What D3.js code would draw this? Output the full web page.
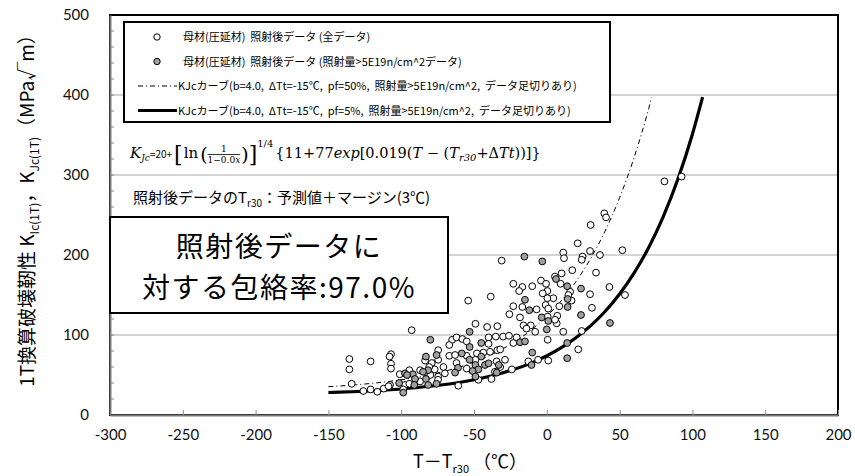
<!DOCTYPE html>
<html>
<head>
<meta charset="utf-8">
<script src="https://cdn.jsdelivr.net/npm/d3@7"></script>
<style>
  body { margin: 0; background: #fff; }
  svg { display: block; }
</style>
</head>
<body>
<div id="chart"></div>
<script>
// ---- data ----
const xTicks = [-300, -250, -200, -150, -100, -50, 0, 50, 100, 150, 200];
const yTicks = [0, 100, 200, 300, 400, 500];

// all irradiated base-metal data [T-Tr30, KJc]
const allData = [
  [39.5,252],[40.7,247],[30.1,237.5],[21.2,214.6],[51.9,206],[11.3,203],[11.8,196],[29.7,205],[24.6,198],[24,194],
  [36.5,200],[-31,193],[17.5,181],[33.8,178],[10.2,177],[5.6,173],[-4,168],[-0.5,164],[-23,164],[-16.8,160],
  [-19,155],[-10,161],[9.5,164],[16,154],[43,160],[53.7,150],[29.7,151],[-38.5,148],[0.4,155],[-2.8,152],
  [4.5,146],[0.4,146],[14.8,150],[17,143],[8.6,136],[-0.8,137.5],[-16.8,135],[-23,136],[-7,132],[1,133],
  [31,134],[-25.7,126],[-18.4,122],[0.6,123],[7.2,124],[6.8,114.6],[5.6,119],[-49,114],[-41,110],[-34,111],
  [-16,112],[-11,112],[-14,108],[-8,104],[11.3,104],[24,105],[-35,98],[-40,97],[-30,98],[-26,99],
  [-20.7,97],[-23,90],[0.6,94],[-40,89],[-34,81],[-32,82],[-43.6,78],[-39,79],[-48,77],[21.6,82],
  [-49,69],[-28.7,69],[-34.5,67],[1,68],[-6,69],[-12.7,67],[-32,60],[-35.6,54],[-24,57],[-47,44],
  [-38,45],[80.8,292],[92.6,298],
  [-54,143],[-92.8,106],[-65,94],[-62,97],[-58,95],[-67,87.5],[-55,92],[-74.6,81],[-74.6,69],[-83.6,68],
  [-67,74],[-63,75],[-55,74],[-62,65],[-55,58],[-71,60],[-70,52],[-79,65],[-77,57],[-80,50],
  [-74.6,48],[-87,56],[-94.4,56],[-101,51],[-87,42],[-74.7,44],[-97.4,37.5],[-94.4,39],[-98.6,32],[-107.7,37.5],
  [-107,76],[-108,73],[-107,64],[-107,58],[-121,67],[-135.6,70],[-135.6,57],[-134,39],[-126,30],[-121,32],
  [-116.4,29],[-112,33],[-108.7,36],[-60.8,36.6],[-80.8,60]
];

// fluence > 5E19 n/cm^2 subset
const highFluence = [
  [-15.4,198],[-3.1,192],[6.3,170],[14,161],[23.5,158],[14.3,145],[14.3,135],[-15,144],[-12,131],[-3.5,122],
  [1,117.5],[23.5,125],[0,107],[43.4,115],[-53,104],[-18.4,91],[-15,92],[14,90],[-53,85],[-45,90],
  [-10,78],[-53,69],[-45,73],[14,71],[-10.5,62.5],[-49,62.5],[-42.5,62.5],[-40,64.6],[-33,62.5],[-47,57],
  [-51,55],[-34.4,53],[-49,48],
  [-80,94],[-75.7,75],[-83,73],[-58.4,77],[-61,59],[-63,53],[-81.5,56],[-85,54],[-92,51],[-97.4,52],
  [-96,50],[-90.5,45],[-83,45],[-81.5,37.5],[-75.7,39],[-101.4,40],[-91,37.5],[-98.6,28]
];

// KJc curve pf=50% (dash-dot)
const curve50 = [
  [-150,35.4],[-130,37.9],[-110,41.6],[-90,46.9],[-70,54.7],[-50,66.2],[-30,82.9],[-10,107.3],
  [10,143.0],[20,166.6],[30,195.2],[40,229.8],[50,271.6],[60,322.1],[70,383.2],[72,396.9]
];
// KJc curve pf=5% (solid)
const curve5 = [
  [-150,28.1],[-130,29.4],[-110,31.3],[-90,34.1],[-70,38.1],[-50,44.1],[-30,52.8],[-10,65.5],
  [10,84.2],[20,96.5],[30,111.4],[40,129.4],[50,151.2],[60,177.6],[70,209.5],[80,248.0],
  [90,294.6],[100,351.0],[107,397.3]
];

const legendLabels = [
  "母材(圧延材)  照射後データ (全データ)",
  "母材(圧延材)  照射後データ (照射量>5E19n/cm^2データ)",
  "KJcカーブ(b=4.0,  ΔTt=-15℃,  pf=50%,  照射量>5E19n/cm^2,  データ足切りあり)",
  "KJcカーブ(b=4.0,  ΔTt=-15℃,  pf=5%,  照射量>5E19n/cm^2,  データ足切りあり)"
];

// ---- drawing ----
const W = 855, H = 476;
const plot = { left: 110, right: 838, top: 15, bottom: 415 };
const JP = "'Noto Sans CJK JP', 'Noto Sans', sans-serif";
const NUM = "Lato, 'Liberation Sans', sans-serif";
const SERIF = "'DejaVu Serif', 'Liberation Serif', serif";

const svg = d3.select("#chart").append("svg").attr("width", W).attr("height", H);

const x = d3.scaleLinear().domain([-300, 200]).range([plot.left, plot.right]);
const y = d3.scaleLinear().domain([0, 500]).range([plot.bottom, plot.top]);

// gridlines
svg.append("g")
  .selectAll("line")
  .data(yTicks.filter(d => d > 0 && d < 500))
  .enter().append("line")
  .attr("x1", plot.left).attr("x2", plot.right)
  .attr("y1", d => y(d)).attr("y2", d => y(d))
  .attr("stroke", "#a8a8a8").attr("stroke-width", 1);

// plot border
svg.append("rect")
  .attr("x", plot.left).attr("y", plot.top)
  .attr("width", plot.right - plot.left).attr("height", plot.bottom - plot.top)
  .attr("fill", "none").attr("stroke", "#000").attr("stroke-width", 2);

// x axis
const xAxis = svg.append("g")
  .attr("transform", `translate(0,${plot.bottom})`)
  .call(d3.axisBottom(x).tickValues(xTicks).tickSizeInner(-5).tickSizeOuter(0).tickPadding(14).tickFormat(d => String(d)));
xAxis.select(".domain").attr("stroke", "#7a7a7a").attr("stroke-width", 2);
xAxis.selectAll(".tick line").attr("stroke", "#8a8a8a");
xAxis.selectAll("text").style("font-family", NUM).style("font-size", "15px").attr("fill", "#111");

// y axis
const yAxis = svg.append("g")
  .attr("transform", `translate(${plot.left},0)`)
  .call(d3.axisLeft(y).tickValues(yTicks).tickSize(0).tickPadding(21).tickFormat(d => String(d)));
yAxis.select(".domain").attr("stroke", "#7a7a7a").attr("stroke-width", 2);
yAxis.selectAll("text").style("font-family", NUM).style("font-size", "15px").attr("fill", "#111");
// minor ticks every 20 pointing inwards
svg.append("g")
  .selectAll("line")
  .data(d3.range(20, 500, 20))
  .enter().append("line")
  .attr("x1", plot.left).attr("x2", plot.left + 4)
  .attr("y1", d => y(d)).attr("y2", d => y(d))
  .attr("stroke", "#8a8a8a").attr("stroke-width", 1);

// curves
const line = d3.line().x(d => x(d[0])).y(d => y(d[1])).curve(d3.curveMonotoneX);
svg.append("path").datum(curve50).attr("d", line)
  .attr("fill", "none").attr("stroke", "#000").attr("stroke-width", 1)
  .attr("stroke-dasharray", "5,3,1,3");
svg.append("path").datum(curve5).attr("d", line)
  .attr("fill", "none").attr("stroke", "#000").attr("stroke-width", 3.2);

// points
svg.append("g").selectAll("circle")
  .data(allData).enter().append("circle")
  .attr("cx", d => x(d[0])).attr("cy", d => y(d[1])).attr("r", 3.4)
  .attr("fill", "#fff").attr("stroke", "#000").attr("stroke-width", 1);
svg.append("g").selectAll("circle")
  .data(highFluence).enter().append("circle")
  .attr("cx", d => x(d[0])).attr("cy", d => y(d[1])).attr("r", 3.4)
  .attr("fill", "#a0a0a0").attr("stroke", "#000").attr("stroke-width", 1);

// legend
const lg = svg.append("g");
lg.append("rect").attr("x", 124).attr("y", 22).attr("width", 486).attr("height", 100)
  .attr("fill", "#fff").attr("stroke", "#000").attr("stroke-width", 2);
const rowY = [37, 61.5, 86, 110.5];
lg.append("circle").attr("cx", 157).attr("cy", rowY[0]).attr("r", 3.2)
  .attr("fill", "#fff").attr("stroke", "#000");
lg.append("circle").attr("cx", 157).attr("cy", rowY[1]).attr("r", 3.2)
  .attr("fill", "#a0a0a0").attr("stroke", "#000");
lg.append("line").attr("x1", 138).attr("x2", 177).attr("y1", rowY[2]).attr("y2", rowY[2])
  .attr("stroke", "#000").attr("stroke-width", 1).attr("stroke-dasharray", "5,3,1,3");
lg.append("line").attr("x1", 138).attr("x2", 177).attr("y1", rowY[3]).attr("y2", rowY[3])
  .attr("stroke", "#000").attr("stroke-width", 3.2);
lg.selectAll("text.lab").data(legendLabels).enter().append("text")
  .attr("class", "lab")
  .attr("x", (d, i) => i < 2 ? 183 : 178)
  .attr("y", (d, i) => rowY[i] + 4)
  .style("font-family", JP).style("font-size", "11px").attr("fill", "#000")
  .style("white-space", "pre")
  .text(d => d);

// formula: laid out piece by piece
function runText(g, x0, base, parts) {
  let cx = x0;
  parts.forEach(p => {
    if (p.frac) {
      const den = g.append("text").attr("x", cx).attr("y", base + 5)
        .style("font-family", SERIF).style("font-size", "9px");
      den.append("tspan").text("1−0.0");
      den.append("tspan").style("font-style", "italic").text("x");
      const w = den.node().getComputedTextLength();
      g.append("text").attr("x", cx + w / 2).attr("y", base - 6).attr("text-anchor", "middle")
        .style("font-family", SERIF).style("font-size", "9px").text("1");
      g.append("line").attr("x1", cx).attr("x2", cx + w).attr("y1", base - 3.5).attr("y2", base - 3.5)
        .attr("stroke", "#000").attr("stroke-width", 0.8);
      cx += w + 1;
      return;
    }
    const t = g.append("text").attr("x", cx).attr("y", base + (p.dy || 0))
      .style("font-family", p.ff || SERIF).style("font-size", (p.fs || 15) + "px")
      .style("font-style", p.it ? "italic" : "normal")
      .style("white-space", "pre")
      .attr("fill", "#000").text(p.t);
    cx += t.node().getComputedTextLength() + (p.gap || 0);
  });
  return cx;
}
const fg = svg.append("g");
runText(fg, 130, 158, [
  { t: "K", it: true, fs: 15 },
  { t: "Jc", it: true, fs: 9, dy: 3 },
  { t: "=20+", ff: JP, fs: 10, gap: 2 },
  { t: "[", fs: 22, dy: 4, gap: 1 },
  { t: "ln", fs: 15, gap: 2 },
  { t: "(", fs: 19, dy: 3 },
  { frac: true },
  { t: ")", fs: 19, dy: 3 },
  { t: "]", fs: 22, dy: 4 },
  { t: "1/4", fs: 10, dy: -11, gap: 2 },
  { t: "{11+77", fs: 14.5 },
  { t: "exp", it: true, fs: 14.5 },
  { t: "[0.019(", fs: 14.5 },
  { t: "T", it: true, fs: 14.5 },
  { t: " − (", fs: 14.5 },
  { t: "T", it: true, fs: 14.5 },
  { t: "r30", it: true, fs: 10, dy: 3 },
  { t: "+Δ", fs: 14.5 },
  { t: "Tt", it: true, fs: 14.5 },
  { t: "))]}", fs: 14.5 }
]);

// Tr30 note
const note = svg.append("text").attr("x", 133).attr("y", 203)
  .style("font-family", JP).style("font-size", "15px").attr("fill", "#000");
note.append("tspan").text("照射後データのT");
note.append("tspan").attr("dy", 4).style("font-size", "10px").text("r30");
note.append("tspan").attr("dy", -4).text("：予測値＋マージン(3℃)");

// envelope box
svg.append("rect").attr("x", plot.left).attr("y", 217).attr("width", 338).attr("height", 96)
  .attr("fill", "#fff").attr("stroke", "#000").attr("stroke-width", 2);
const boxText = svg.append("text").attr("text-anchor", "middle")
  .style("font-family", JP).style("font-size", "28px").style("letter-spacing", "1.5px").attr("fill", "#000");
boxText.append("tspan").attr("x", 279).attr("y", 257).text("照射後データに");
boxText.append("tspan").attr("x", 279).attr("y", 298).text("対する包絡率:97.0%");

// axis titles
const xt = svg.append("text").attr("x", 470).attr("y", 468).attr("text-anchor", "middle")
  .style("font-family", JP).style("font-size", "18px").attr("fill", "#000");
xt.append("tspan").text("T－T");
xt.append("tspan").attr("dy", 5).style("font-size", "11px").text("r30");
xt.append("tspan").attr("dy", -5).text(" （℃）");

const yt = svg.append("text")
  .attr("transform", "translate(34,206) rotate(-90)")
  .attr("text-anchor", "middle")
  .style("font-family", JP).style("font-size", "19px").attr("fill", "#000");
yt.append("tspan").text("1T換算破壊靭性  K");
yt.append("tspan").attr("dy", 5).style("font-size", "12px").text("Ic(1T)");
yt.append("tspan").attr("dy", -5).text("，K");
yt.append("tspan").attr("dy", 5).style("font-size", "12px").text("Jc(1T)");
yt.append("tspan").attr("dy", -5).text("（MPa√m）");
</script>
</body>
</html>
